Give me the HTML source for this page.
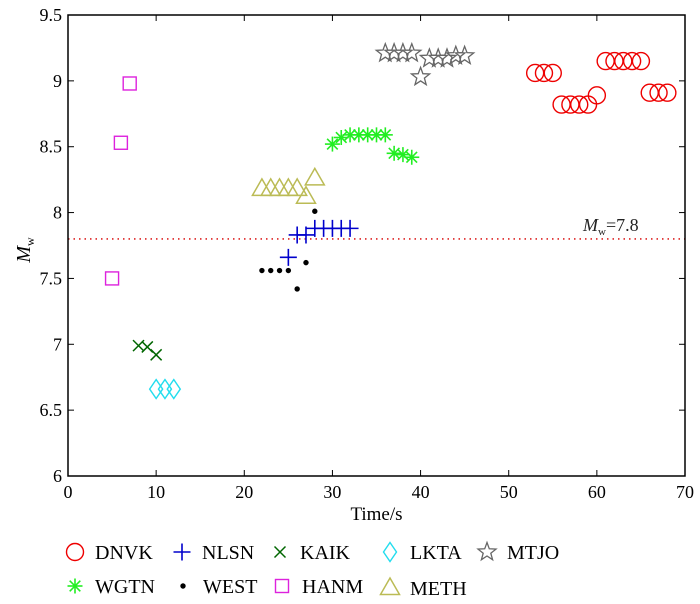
<!DOCTYPE html>
<html><head><meta charset="utf-8">
<style>
body{margin:0;background:#fff;}
svg{display:block;font-family:"Liberation Serif",serif;}
</style></head>
<body>
<svg id="chart" width="700" height="604">
<rect x="0" y="0" width="700" height="604" fill="#fff"/>
<g id="marks"></g>
<g id="axes"></g>
<g id="legend"></g>
</svg>
<script>
const xTicks=[0,10,20,30,40,50,60,70];
const yTicks=[6,6.5,7,7.5,8,8.5,9,9.5];
const yTickLabels=["6","6.5","7","7.5","8","8.5","9","9.5"];
const refLine=7.8;
const dnvkT=[53,54,55,56,57,58,59,60,61,62,63,64,65,66,67,68];
const dnvkM=[9.06,9.06,9.06,8.82,8.82,8.82,8.82,8.89,9.15,9.15,9.15,9.15,9.15,8.91,8.91,8.91];
const wgtnT=[30,31,32,33,34,35,36,37,38,39];
const wgtnM=[8.52,8.57,8.59,8.59,8.59,8.59,8.59,8.45,8.44,8.42];
const nlsnT=[25,26,27,28,29,30,31,32];
const nlsnM=[7.66,7.83,7.83,7.88,7.88,7.88,7.88,7.88];
const westT=[22,23,24,25,26,27,28];
const westM=[7.56,7.56,7.56,7.56,7.42,7.62,8.01];
const kaikT=[8,9,10];
const kaikM=[6.99,6.98,6.92];
const hanmT=[5,6,7];
const hanmM=[7.5,8.53,8.98];
const lktaT=[10,11,12];
const lktaM=[6.66,6.66,6.66];
const methT=[22,23,24,25,26,27,28];
const methM=[8.18,8.18,8.18,8.18,8.18,8.12,8.26];
const mtjoT=[36,37,38,39,40,41,42,43,44,45];
const mtjoM=[9.21,9.21,9.21,9.21,9.03,9.17,9.17,9.17,9.19,9.19];

const X0=68,X1=685,Y0=476,Y1=15;
const sx=v=>X0+(v-0)/(70-0)*(X1-X0);
const sy=v=>Y0-(v-6)/(9.5-6)*(Y0-Y1);
const NS="http://www.w3.org/2000/svg";
function mk(tag,attrs,parent){const e=document.createElementNS(NS,tag);for(const k in attrs)e.setAttribute(k,attrs[k]);parent.appendChild(e);return e;}
function starPts(cx,cy,R){let p=[];for(let i=0;i<10;i++){const r=i%2?R*0.42:R;const a=-Math.PI/2+i*Math.PI/5;p.push((cx+r*Math.cos(a)).toFixed(1)+","+(cy+r*Math.sin(a)).toFixed(1));}return p.join(" ");}
function marker(type,cx,cy,g){
  let e;
  if(type==="circle"){e=mk("circle",{cx,cy,r:8.5,fill:"none",stroke:"#e00",'stroke-width':1.4},g);}
  else if(type==="star6"){e=mk("g",{},g);for(let i=0;i<4;i++){const a=i*Math.PI/4;mk("line",{x1:cx-7.5*Math.cos(a),y1:cy-7.5*Math.sin(a),x2:cx+7.5*Math.cos(a),y2:cy+7.5*Math.sin(a),stroke:"#2e2",'stroke-width':1.6},e);}}
  else if(type==="plus"){e=mk("path",{d:`M${cx-8.5},${cy}H${cx+8.5}M${cx},${cy-8.5}V${cy+8.5}`,stroke:"#00c",'stroke-width':1.6,fill:"none"},g);}
  else if(type==="dot"){e=mk("circle",{cx,cy,r:2.7,fill:"#000"},g);}
  else if(type==="x"){e=mk("path",{d:`M${cx-5.5},${cy-5.5}L${cx+5.5},${cy+5.5}M${cx-5.5},${cy+5.5}L${cx+5.5},${cy-5.5}`,stroke:"#060",'stroke-width':1.5,fill:"none"},g);}
  else if(type==="square"){e=mk("rect",{x:cx-6.5,y:cy-6.5,width:13,height:13,fill:"none",stroke:"#d2d",'stroke-width':1.4},g);}
  else if(type==="diamond"){e=mk("polygon",{points:`${cx},${cy-9.5} ${cx+6.5},${cy} ${cx},${cy+9.5} ${cx-6.5},${cy}`,fill:"none",stroke:"#2de",'stroke-width':1.4},g);}
  else if(type==="tri"){e=mk("polygon",{points:`${cx},${cy-10} ${cx+9.5},${cy+6.5} ${cx-9.5},${cy+6.5}`,fill:"none",stroke:"#bb5",'stroke-width':1.5},g);}
  else if(type==="star"){e=mk("polygon",{points:starPts(cx,cy,9.5),fill:"none",stroke:"#666",'stroke-width':1.3},g);}
  return e;
}
const series=[
 ["dnvk","circle",dnvkT,dnvkM,"DNVK"],["wgtn","star6",wgtnT,wgtnM,"WGTN"],
 ["nlsn","plus",nlsnT,nlsnM,"NLSN"],["west","dot",westT,westM,"WEST"],
 ["kaik","x",kaikT,kaikM,"KAIK"],["hanm","square",hanmT,hanmM,"HANM"],
 ["lkta","diamond",lktaT,lktaM,"LKTA"],["meth","tri",methT,methM,"METH"],
 ["mtjo","star",mtjoT,mtjoM,"MTJO"]];
const marks=document.getElementById("marks");
const rl=mk("line",{x1:X0,x2:X1,y1:sy(refLine),y2:sy(refLine),stroke:"#d22",'stroke-width':1.6,'stroke-dasharray':"1.5,4"},marks);


const rt=mk("text",{x:583,y:sy(refLine)-8,'font-size':18,fill:"#222"},marks);
rt.innerHTML='<tspan font-style="italic">M</tspan><tspan font-size="11" dy="4">w</tspan><tspan dy="-4">=7.8</tspan>';


for(const [nm,type,T,M] of series){
  const g=mk("g",{},marks);
  
  
  for(let i=0;i<T.length;i++){
    const m=marker(type,sx(T[i]),sy(M[i]),g);
    
    
  }
}
const ax=document.getElementById("axes");
mk("rect",{x:X0,y:Y1,width:X1-X0,height:Y0-Y1,fill:"none",stroke:"#000",'stroke-width':1.5},ax);
xTicks.forEach(v=>{const x=sx(v);mk("line",{x1:x,x2:x,y1:Y0,y2:Y0-6,stroke:"#000"},ax);mk("line",{x1:x,x2:x,y1:Y1,y2:Y1+6,stroke:"#000"},ax);
 const t=mk("text",{x:x,y:Y0+22,'font-size':18,'text-anchor':"middle"},ax);t.textContent=v;
 });
yTicks.forEach((v,i)=>{const y=sy(v);mk("line",{x1:X0,x2:X0+6,y1:y,y2:y,stroke:"#000"},ax);mk("line",{x1:X1,x2:X1-6,y1:y,y2:y,stroke:"#000"},ax);
 const t=mk("text",{x:X0-6,y:y+6,'font-size':18,'text-anchor':"end"},ax);t.textContent=yTickLabels[i];
 });
const xt=mk("text",{x:sx(35),y:520,'font-size':19,'text-anchor':"middle"},ax);xt.textContent="Time/s";

const yt=mk("text",{x:0,y:0,'font-size':20,transform:"translate(30,250) rotate(-90)",'text-anchor':"middle"},ax);
yt.innerHTML='<tspan font-style="italic">M</tspan><tspan font-size="12" dy="4">w</tspan>';

const lg=document.getElementById("legend");
const lpos={dnvk:[75,552],nlsn:[182,552],kaik:[280,552],lkta:[390,552],mtjo:[487,552],wgtn:[75,586],west:[183,586],hanm:[282,586],meth:[390,588]};
for(const [nm,type,,,label] of series){
  const [x,y]=lpos[nm];
  const g=mk("g",{},lg);
  
  
  marker(type,x,y,g);
  const t=mk("text",{x:x+20,y:y+7,'font-size':20},g);t.textContent=label;
}
</script>
</body></html>
